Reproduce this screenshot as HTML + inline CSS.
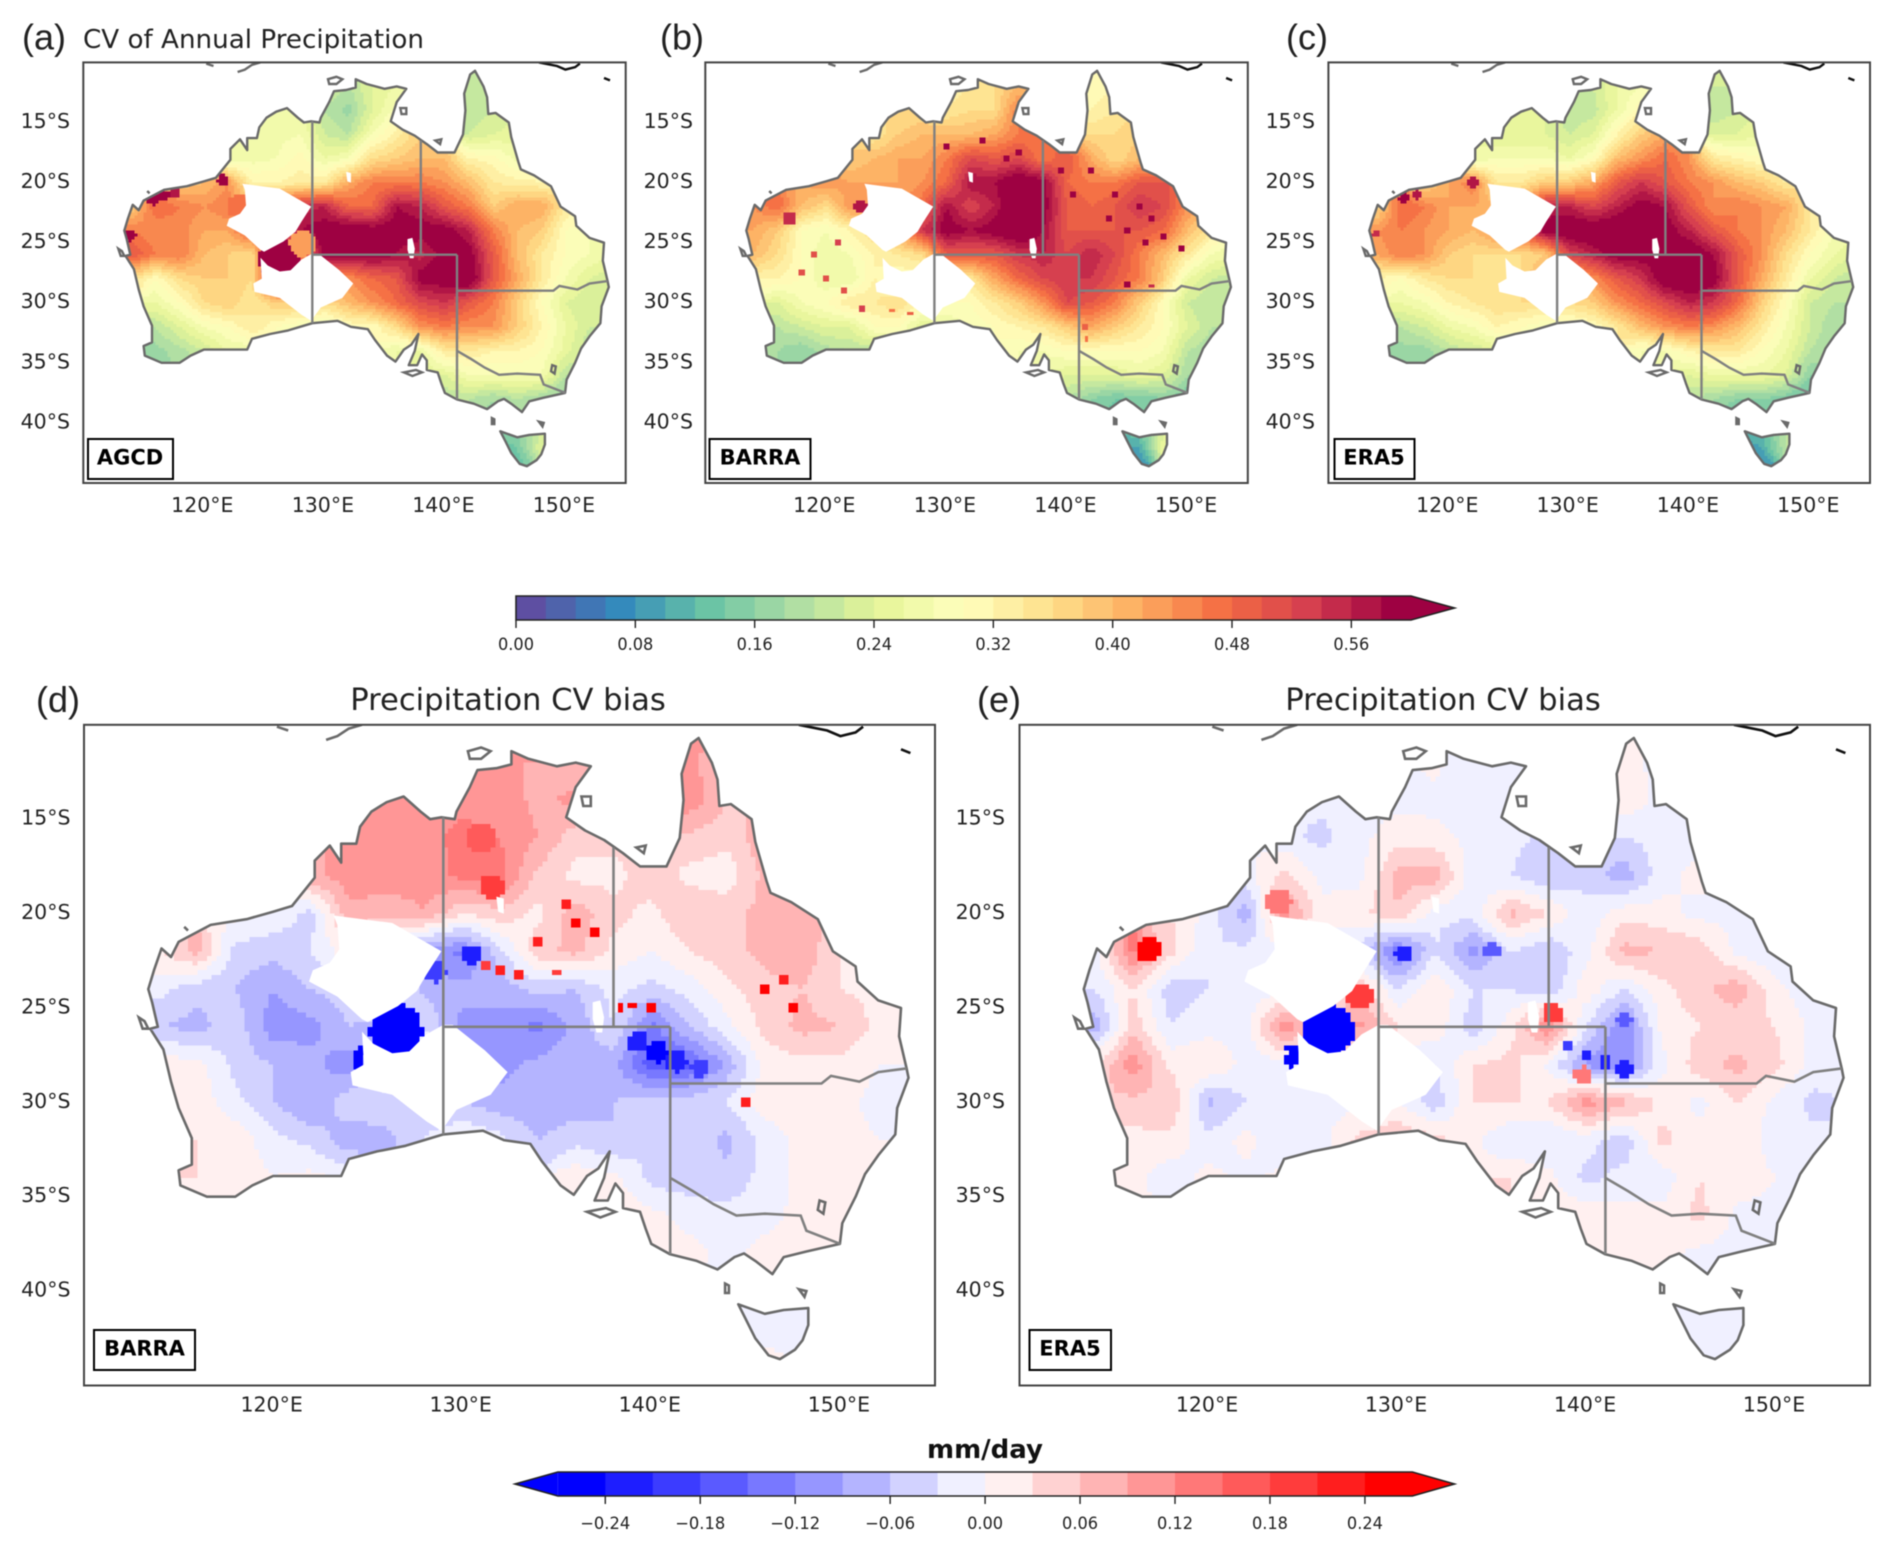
<!DOCTYPE html>
<html lang="en">
<head>
<meta charset="utf-8">
<title>Precipitation CV maps</title>
<style>
html,body{margin:0;padding:0;background:#fff;width:1892px;height:1552px;overflow:hidden}
#figure{display:block;filter:blur(.6px)}
.tick{font-family:"DejaVu Sans",sans-serif;font-size:20.5px;fill:#222}
.cbt{font-family:"DejaVu Sans",sans-serif;font-size:17px;fill:#222}
.ttl{font-family:"DejaVu Sans",sans-serif;fill:#222}
.let{font-family:"Liberation Sans",sans-serif;font-size:36px;fill:#222}
.ds{font-family:"DejaVu Sans",sans-serif;font-weight:bold;font-size:21px;fill:#000;text-anchor:middle}
.box{fill:#fff;stroke:#000;stroke-width:2}
.frame{fill:none;stroke:#444;stroke-width:2}
</style>
</head>
<body>
<svg id="figure" xmlns="http://www.w3.org/2000/svg" width="1892" height="1552" viewBox="0 0 1892 1552">
  <defs id="defs"></defs>
  <rect x="0" y="0" width="1892" height="1552" fill="#fff"/>

  <text class="let" x="22" y="49.5">(a)</text>
  <text class="ttl" x="83" y="48" font-size="26" textLength="341" lengthAdjust="spacingAndGlyphs">CV of Annual Precipitation</text>
  <text class="let" x="660" y="49.5">(b)</text>
  <text class="let" x="1286" y="49.5">(c)</text>
  <text class="let" x="36" y="712">(d)</text>
  <text class="ttl" x="508" y="710" font-size="30.6" text-anchor="middle">Precipitation CV bias</text>
  <text class="let" x="977" y="712">(e)</text>
  <text class="ttl" x="1443" y="710" font-size="30.6" text-anchor="middle">Precipitation CV bias</text>

  <g id="panel-a"></g>
  <g id="panel-b"></g>
  <g id="panel-c"></g>
  <g id="panel-d"></g>
  <g id="panel-e"></g>

  <rect class="box" x="88" y="439" width="85" height="40"/>
  <text class="ds" x="130" y="464.5">AGCD</text>
  <rect class="box" x="709.5" y="439" width="101" height="40"/>
  <text class="ds" x="760" y="464.5">BARRA</text>
  <rect class="box" x="1334.5" y="439" width="80" height="40"/>
  <text class="ds" x="1374" y="464.5">ERA5</text>
  <rect class="box" x="94" y="1330" width="101" height="40"/>
  <text class="ds" x="144.5" y="1355.5">BARRA</text>
  <rect class="box" x="1029.5" y="1330" width="81.5" height="40"/>
  <text class="ds" x="1070" y="1355.5">ERA5</text>

  <g id="colorbar-cv"></g>
  <g id="colorbar-bias"></g>
  <text x="985" y="1458" font-family="DejaVu Sans, sans-serif" font-weight="bold" font-size="26" fill="#111" text-anchor="middle">mm/day</text>
</svg>

<script>
const _ = null;
/* axis tick labels */
const lonTicks = [120, 130, 140, 150];
const latTicks = [15, 20, 25, 30, 35, 40];
const cvTicks = [0, 8, 16, 24, 32, 40, 48, 56];
const biasTicks = [-24, -18, -12, -6, 0, 6, 12, 18, 24];
/* contour levels (hundredths) */
const cvLevels = [0,2,4,6,8,10,12,14,16,18,20,22,24,26,28,30,32,34,36,38,40,42,44,46,48,50,52,54,56,58,60];
const biasLevels = [-27,-24,-21,-18,-15,-12,-9,-6,-3,0,3,6,9,12,15,18,21,24,27];
/* heatmap grid */
const gridLons = [112,114,116,118,120,122,124,126,128,130,132,134,136,138,140,142,144,146,148,150,152,154];
const gridLats = [-10,-12,-14,-16,-18,-20,-22,-24,-26,-28,-30,-32,-34,-36,-38,-40,-42,-44];

/* values in hundredths */
const cvAgcd = [
[_,_,_,_,_,_,_,_,_,_,_,_,_,_,_,20,_,_,_,_,_,_],
[_,_,_,_,_,_,_,_,_,22,20,24,26,_,_,20,22,_,_,_,_,_],
[_,_,_,_,_,_,_,27,27,20,17,24,29,_,_,20,22,_,_,_,_,_],
[_,_,_,_,_,_,26,27,28,22,20,28,33,38,_,22,24,25,_,_,_,_],
[_,_,_,_,_,26,27,28,31,26,28,36,38,40,40,32,31,27,28,_,_,_],
[_,_,_,38,40,44,32,32,33,34,42,46,46,46,44,40,34,33,32,_,_,_],
[_,38,48,46,44,46,40,50,55,56,48,48,58,56,50,46,38,42,42,34,_,_],
[_,46,44,45,42,42,50,50,58,60,62,60,60,60,60,56,46,40,38,30,28,_],
[_,50,46,46,40,38,36,60,44,60,60,60,58,55,60,60,50,40,34,30,28,26],
[_,36,30,36,38,38,36,60,60,44,44,48,50,60,60,62,50,42,34,28,24,22],
[_,_,26,30,36,38,34,38,38,36,40,44,48,52,54,50,46,38,30,24,22,_],
[_,_,20,24,28,30,34,30,28,26,30,30,36,44,46,44,44,38,32,26,22,_],
[_,18,17,19,22,26,26,_,_,_,_,_,26,26,34,34,32,32,30,25,20,_],
[_,_,17,_,_,_,_,_,_,_,_,_,_,24,24,28,28,28,28,20,_,_],
[_,_,_,_,_,_,_,_,_,_,_,_,_,_,20,20,18,20,18,16,_,_],
[_,_,_,_,_,_,_,_,_,_,_,_,_,_,_,_,16,18,22,_,_,_],
[_,_,_,_,_,_,_,_,_,_,_,_,_,_,_,_,12,14,24,_,_,_],
[_,_,_,_,_,_,_,_,_,_,_,_,_,_,_,_,_,12,_,_,_,_]];
const cvBarra = [
[_,_,_,_,_,_,_,_,_,_,_,_,_,_,_,30,_,_,_,_,_,_],
[_,_,_,_,_,_,_,_,_,32,34,36,40,_,_,30,32,_,_,_,_,_],
[_,_,_,_,_,_,_,36,36,34,36,36,46,_,_,32,34,_,_,_,_,_],
[_,_,_,_,_,_,34,38,40,40,40,42,46,46,_,36,36,38,_,_,_,_],
[_,_,_,_,_,38,40,42,42,46,52,50,52,46,50,42,36,40,42,_,_,_],
[_,_,_,42,44,42,42,42,44,48,58,58,62,60,48,46,46,50,50,_,_,_],
[_,44,48,40,36,44,42,42,48,58,52,56,64,60,50,48,50,54,52,44,_,_],
[_,42,38,30,28,32,36,42,54,60,58,60,62,58,50,50,50,50,48,40,34,_],
[_,40,36,30,26,28,32,34,36,50,50,50,54,56,52,56,52,46,40,34,28,26],
[_,32,32,30,26,26,32,30,30,34,34,42,48,52,54,54,50,46,38,26,22,20],
[_,_,24,28,30,34,34,36,32,30,30,34,38,44,52,50,46,38,30,22,20,_],
[_,_,20,22,24,24,30,30,24,26,28,30,32,34,38,42,38,34,30,24,20,_],
[_,18,18,16,19,20,20,_,_,_,_,_,28,28,30,30,30,30,28,20,18,_],
[_,_,18,_,_,_,_,_,_,_,_,_,_,26,24,24,24,26,24,18,_,_],
[_,_,_,_,_,_,_,_,_,_,_,_,_,_,20,16,14,14,16,14,_,_],
[_,_,_,_,_,_,_,_,_,_,_,_,_,_,_,_,12,16,22,_,_,_],
[_,_,_,_,_,_,_,_,_,_,_,_,_,_,_,_,10,10,26,_,_,_],
[_,_,_,_,_,_,_,_,_,_,_,_,_,_,_,_,_,6,_,_,_,_]];
const cvEra5 = [
[_,_,_,_,_,_,_,_,_,_,_,_,_,_,_,22,_,_,_,_,_,_],
[_,_,_,_,_,_,_,_,_,22,22,26,28,_,_,22,22,_,_,_,_,_],
[_,_,_,_,_,_,_,24,24,20,21,26,32,_,_,20,22,_,_,_,_,_],
[_,_,_,_,_,_,24,24,24,22,24,32,38,42,_,24,24,26,_,_,_,_],
[_,_,_,_,_,26,28,28,28,26,30,40,44,48,44,34,32,30,30,_,_,_],
[_,_,_,36,42,46,34,34,38,38,42,50,54,50,46,44,40,38,34,_,_,_],
[_,36,48,46,42,42,40,44,56,56,52,56,60,58,50,44,46,44,42,34,_,_],
[_,44,46,44,42,40,44,50,60,62,62,62,62,60,56,50,46,44,40,34,28,_],
[_,42,46,44,38,36,36,36,38,52,56,60,60,58,62,58,50,44,36,30,26,24],
[_,32,30,34,36,36,34,36,42,40,44,50,54,62,62,60,50,42,34,26,22,20],
[_,_,26,28,32,34,36,36,36,36,38,44,48,52,56,54,48,38,30,22,20,_],
[_,_,20,22,26,28,32,30,28,28,30,34,40,44,46,44,40,34,28,22,18,_],
[_,18,17,17,20,22,24,_,_,_,_,_,28,28,32,34,34,30,26,20,18,_],
[_,_,17,_,_,_,_,_,_,_,_,_,_,26,24,26,26,26,24,16,_,_],
[_,_,_,_,_,_,_,_,_,_,_,_,_,_,20,18,16,16,14,12,_,_],
[_,_,_,_,_,_,_,_,_,_,_,_,_,_,_,_,12,14,20,_,_,_],
[_,_,_,_,_,_,_,_,_,_,_,_,_,_,_,_,8,10,20,_,_,_],
[_,_,_,_,_,_,_,_,_,_,_,_,_,_,_,_,_,6,_,_,_,_]];
const biasBarra = [
[_,_,_,_,_,_,_,_,_,_,_,_,_,_,_,10,_,_,_,_,_,_],
[_,_,_,_,_,_,_,_,_,11,9,9,6,_,_,10,6,_,_,_,_,_],
[_,_,_,_,_,_,_,9,9,11,11,8,10,_,_,11,6,_,_,_,_,_],
[_,_,_,_,_,_,9,11,11,13,12,9,4,4,_,5,4,8,_,_,_,_],
[_,_,_,_,_,8,11,11,10,13,13,5,2,2,5,2,1,7,7,_,_,_],
[_,_,_,1,-1,-4,8,7,9,3,5,2,8,4,2,6,5,7,7,_,_,_],
[_,3,7,-4,-5,-3,2,-2,-10,-13,-4,5,7,2,0,3,5,7,8,3,_,_],
[_,-2,-5,-6,-9,-6,-4,2,-7,-8,-8,-5,-6,-2,-4,-2,2,5,6,3,2,_],
[_,-6,-7,-4,-11,-10,-6,-8,-3,-10,-10,-13,-8,-3,-13,-6,-1,4,7,6,2,1],
[_,2,1,-4,-6,-8,-11,0,0,-10,-10,-8,-6,-8,-17,-16,-8,1,2,2,0,0],
[_,_,2,-2,-6,-9,-4,-4,-5,-6,-8,-8,-8,-6,-4,-4,-3,2,1,1,-1,_],
[_,_,3,2,-2,-4,-8,-7,-3,0,-2,-6,-4,-6,-3,-4,-7,-2,1,1,0,_],
[_,3,3,2,0,1,-1,_,_,_,_,_,2,1,-4,-5,-5,-2,1,0,0,_],
[_,_,2,_,_,_,_,_,_,_,_,_,_,2,1,-1,-2,-1,1,0,_,_],
[_,_,_,_,_,_,_,_,_,_,_,_,_,_,2,1,-1,1,1,0,_,_],
[_,_,_,_,_,_,_,_,_,_,_,_,_,_,_,_,-1,-1,-1,_,_,_],
[_,_,_,_,_,_,_,_,_,_,_,_,_,_,_,_,-1,-1,-1,_,_,_],
[_,_,_,_,_,_,_,_,_,_,_,_,_,_,_,_,_,1,_,_,_,_]];
const biasEra5 = [
[_,_,_,_,_,_,_,_,_,_,_,_,_,_,_,1,_,_,_,_,_,_],
[_,_,_,_,_,_,_,_,_,-1,1,-3,-3,_,_,1,-1,_,_,_,_,_],
[_,_,_,_,_,_,_,-2,-2,-1,-1,-3,-3,_,_,2,-1,_,_,_,_,_],
[_,_,_,_,_,_,-2,-4,-1,2,1,-1,-2,-4,_,-3,-2,-1,_,_,_,_],
[_,_,_,_,_,-1,4,-1,-1,7,8,-2,-3,-6,-4,-8,-1,1,1,_,_,_],
[_,_,_,3,-1,-8,11,1,2,6,-2,-2,7,3,-2,2,1,-1,-1,_,_,_],
[_,-1,13,4,-3,-2,-2,-2,-4,-14,-3,-10,-3,-6,-1,7,6,5,-1,-3,_,_],
[_,-3,3,-5,-3,-1,-2,3,6,-3,3,-3,-3,-6,2,-3,2,5,8,1,-2,_],
[_,-8,5,-3,-1,-2,12,3,10,3,2,-5,2,12,-3,-12,1,3,4,3,-1,-1],
[_,3,11,2,3,-1,-2,0,0,-3,-3,3,4,-1,-10,-12,-1,5,7,4,-1,-1],
[_,_,5,6,-7,-3,-2,-1,-1,0,-5,3,3,3,11,7,2,-1,3,-1,-4,_],
[_,_,2,2,-2,1,-3,-1,4,6,4,1,-3,-3,-2,-5,4,1,3,-2,-2,_],
[_,1,1,-2,1,-1,1,_,_,_,_,_,3,1,-4,-2,-2,3,2,0,0,_],
[_,_,1,_,_,_,_,_,_,_,_,_,_,2,2,1,1,4,-1,-1,_,_],
[_,_,_,_,_,_,_,_,_,_,_,_,_,_,1,1,1,-1,-1,-1,_,_],
[_,_,_,_,_,_,_,_,_,_,_,_,_,_,_,_,-1,-1,-1,_,_,_],
[_,_,_,_,_,_,_,_,_,_,_,_,_,_,_,_,-1,-3,-1,_,_,_],
[_,_,_,_,_,_,_,_,_,_,_,_,_,_,_,_,_,-1,_,_,_,_]];

/* small local features: lon, lat, radius (deg), value */
const spotsAgcd = [[126.2,-26.4,1.7,62],[128.2,-25.1,1.1,43],[122.9,-22,1,47],[121.6,-19.8,.5,60],[115.8,-21.4,.5,60],[116.7,-21.1,.5,60],[117.6,-20.9,.45,56],[113.9,-24.4,.5,60]];
const spotsBarra = [[136.5,-13.6,.5,60],[146,-22,.3,60],[147,-23,.3,60],[144,-21,.25,60],[148,-24.5,.3,60],[146.5,-25,.3,60],[143.5,-23,.25,60],[149.5,-25.5,.25,60],[145,-24,.3,60],[142,-19,.3,60],[139.5,-19,.3,60],[140.5,-21,.3,60],[136,-17.5,.25,60],[135,-18,.25,60],[133,-16.5,.25,58],[130,-17,.25,58],[121,-25,.2,52],[119,-26,.2,50],[118,-27.5,.2,50],[120,-28,.2,50],[121.5,-29,.2,50],[123,-30.5,.2,52],[127,-30.8,.2,48],[125.5,-30.6,.25,46],[122.9,-22,.6,56],[117,-23,.6,54],[141.6,-32,.3,48],[141.6,-33,.25,46],[145,-28.4,.3,58],[147,-28.6,.25,54]];
const spotsEra5 = [[116.3,-21.3,.45,60],[117.3,-21,.4,56],[113.9,-24.3,.3,54],[122,-20,.45,56]];
const spotsBiasBarra = [[126.5,-26.2,1.4,-30],[124.6,-27.4,.35,-30],[124.5,-28,.3,-30],[136.5,-13.6,.55,26],[131.6,-18.6,.7,20],[131,-16,.8,15],[146,-24,.25,24],[147.5,-25,.25,24],[147,-23.5,.3,22],[140,-25,.2,26],[139,-24.8,.2,26],[138.3,-25,.2,26],[145,-30,.3,22],[136,-20.5,.35,24],[137,-21,.35,24],[135.5,-19.5,.35,22],[134,-21.5,.25,22],[132,-23,.25,22],[133,-23.2,.25,22],[131.2,-22.8,.25,20],[135,-23.2,.2,20],[130.5,-22.2,.5,-22],[128.6,-23.1,.55,-20],[139.3,-26.8,.55,-22],[140.3,-27.3,.6,-25],[141.3,-27.8,.6,-24],[142.6,-28.2,.5,-20]];
const spotsBiasEra5 = [[126.3,-26.2,1.4,-30],[124.4,-27.8,.35,-30],[124.4,-27.2,.3,-30],[116.8,-21.9,.65,24],[123.7,-19.4,.7,14],[128,-24.4,.7,18],[138.2,-25.3,.55,18],[130.3,-22.1,.45,-22],[135,-21.9,.45,-18],[139.8,-28.6,.5,13],[139,-27,.35,-20],[140,-27.5,.35,-22],[141,-27.9,.35,-22],[142,-28.3,.45,-22],[142,-25.6,.4,-16]];

/* geography in lon/lat */
const mainland = [[142.5,-10.7],[143.2,-12],[143.5,-12.9],[143.6,-14.3],[144.2,-14.2],[145.3,-15],[145.5,-16.2],[146.1,-18.3],[146.3,-18.9],[147.4,-19.4],[148.8,-20.3],[149.6,-22],[150.8,-22.8],[150.9,-23.6],[152,-24.6],[153.2,-25],[153.1,-26.5],[153.5,-28.2],[153.6,-28.7],[153,-30.3],[152.9,-31.7],[152,-32.8],[151.3,-33.8],[150.8,-35],[150.1,-36.4],[149.97,-37.5],[148.2,-37.9],[147,-38.2],[146.4,-39.1],[145.5,-38.4],[144.9,-38],[144.4,-38.2],[143.5,-38.85],[142.4,-38.4],[141,-38.05],[140,-37.5],[139.7,-36.7],[139.4,-35.8],[138.5,-35.6],[138.5,-34.8],[138.1,-34.3],[137.7,-35.2],[137,-35.2],[137.5,-34],[137.8,-32.6],[137.2,-33.5],[136.6,-33.9],[135.9,-34.9],[135.2,-34.4],[134.2,-33.1],[133.6,-32.2],[132.2,-32],[131.1,-31.5],[129,-31.7],[127,-32.3],[125.5,-32.6],[124,-33],[123.6,-33.9],[122,-33.9],[120,-33.9],[118.9,-34.4],[118,-35],[116.5,-35],[115.1,-34.4],[115,-33.6],[115.7,-33.3],[115.7,-31.9],[115,-30.3],[114.6,-28.9],[114.2,-27.2],[113.5,-26.1],[113.9,-26],[113.6,-24.7],[113.4,-24],[113.7,-23],[114.1,-21.85],[114.6,-22.3],[115,-21.5],[116.7,-20.6],[118.6,-20.3],[120,-19.9],[121,-19.6],[122.2,-18.1],[122.2,-17.2],[123,-16.4],[123.6,-17.3],[123.6,-16.3],[124.4,-16.3],[124.6,-15.4],[125.2,-14.6],[126,-14.1],[126.9,-13.8],[127.8,-14.6],[128.3,-15],[128.9,-14.9],[129.6,-15],[129.7,-14.6],[130.4,-13.3],[130.8,-12.4],[131.8,-12.3],[132.6,-12.1],[132.6,-11.4],[133.5,-11.8],[135,-12.2],[136,-12],[136.8,-12.2],[136,-13.3],[135.5,-14.9],[136.5,-15.6],[137.5,-16.1],[138.5,-16.8],[139.4,-17.5],[140.8,-17.5],[141.5,-16],[141.7,-14],[141.6,-12.6],[142.1,-11]];
const tasmania = [[144.6,-40.7],[146,-41.2],[147,-41],[148.3,-40.9],[148.3,-41.8],[148,-42.6],[147.6,-43.1],[146.8,-43.6],[146.2,-43.4],[145.5,-42.5],[145,-41.5]];
const grayIslands = [
[[130.3,-11.4],[131,-11.2],[131.5,-11.4],[131,-11.8],[130.4,-11.8]],
[[136.3,-13.8],[136.8,-13.8],[136.8,-14.3],[136.4,-14.3]],
[[139.2,-16.5],[139.7,-16.4],[139.6,-16.8]],
[[136.6,-35.8],[137.6,-35.6],[138.1,-35.8],[137.3,-36.1]],
[[143.9,-39.6],[144.1,-39.7],[144.1,-40.1],[143.9,-40.1]],
[[147.8,-39.9],[148.2,-40],[148.1,-40.3]],
[[112.9,-25.5],[113.2,-25.7],[113.4,-26.1],[113.1,-26.1]],
[[148.9,-35.2],[149.2,-35.3],[149.1,-35.9],[148.8,-35.7]]];
const grayCoastBits = [
[[115.3,-20.7],[115.5,-20.9]],
[[120.2,-10.1],[120.8,-10.3]],
[[122.8,-10.8],[123.4,-10.6],[124,-10.2],[124.7,-10]]];
const blackIslands = [
[[147.8,-10],[149.3,-10.3],[150,-10.6],[150.8,-10.4],[151.2,-10.1]],
[[153.2,-11.3],[153.7,-11.5]]];
const stateBorders = [
[[129,-14.9],[129,-31.7]],
[[129,-26],[141,-26]],
[[138,-16.5],[138,-26]],
[[141,-26],[141,-38.05]],
[[141,-29],[149,-29],[149.5,-28.6],[151,-28.9],[152,-28.4],[153.5,-28.2]],
[[141,-34],[142.2,-34.7],[143.3,-35.4],[144.5,-36],[146,-35.9],[147.9,-36],[148.2,-36.8],[150,-37.5]]];
const missingUpper = [[123.2,-20.1],[126.3,-20.5],[128.9,-22],[128.1,-23.25],[127.6,-24.1],[126.6,-24.9],[125,-25.75],[124.7,-25.6],[123.4,-24.4],[121.9,-23.6],[122.1,-23],[123,-22.6],[123.5,-21.9],[123.4,-20.6]];
const missingLower = [[124.7,-26.25],[125.3,-26.9],[126.3,-27.4],[127.2,-27.3],[128.1,-26.4],[129,-25.9],[129.5,-25.9],[131.2,-27.25],[132.4,-28.4],[131.5,-29.6],[129.7,-30.4],[128.9,-31.5],[128.1,-31],[126.3,-29.6],[124.2,-29.1],[124.1,-28.4],[124.8,-28]];
const missingEyre = [[136.9,-24.7],[137.3,-24.6],[137.5,-25.5],[137.4,-26.3],[137.1,-26.3],[136.9,-25.6]];
const missingSmall = [[131.8,-19.1],[132.2,-19.2],[132.2,-20],[131.9,-19.9]];

const NS = 'http://www.w3.org/2000/svg';
const spectralStops = ['#5e4fa2','#3288bd','#66c2a5','#abdda4','#e6f598','#ffffbf','#fee08b','#fdae61','#f46d43','#d53e4f','#9e0142'];
function hex(c){return [1,3,5].map(function(i){return parseInt(c.substr(i,2),16);});}
function spectral(t){
  const p=Math.min(.9999,Math.max(0,t))*10,i=Math.floor(p),f=p-i,a=hex(spectralStops[i]),b=hex(spectralStops[i+1]);
  return 'rgb('+a.map(function(v,k){return Math.round(v+(b[k]-v)*f);}).join(',')+')';
}
function bwr(t){
  const v=Math.round(t<.5?t*2*255:(1-t)*2*255);
  return t<.5?'rgb('+v+','+v+',255)':'rgb(255,'+v+','+v+')';
}
function levelIndex(levels,v){
  if(v<levels[0])return -1;
  for(let i=1;i<levels.length;i++){if(v<levels[i])return i-1;}
  return levels.length-1;
}
function cvColor(i){
  const n=cvLevels.length-1;
  return spectral(Math.min(i,n-1)/(n-1));
}
function biasColor(i){
  const n=biasLevels.length-1;
  return bwr(Math.max(0,Math.min(i,n-1))/(n-1));
}
function sample(grid,spots,lon,lat){
  for(let s=spots.length-1;s>=0;s--){
    const d=spots[s];
    if(Math.hypot(lon-d[0],lat-d[1])<=d[2])return d[3];
  }
  const fx=(lon-gridLons[0])/(gridLons[1]-gridLons[0]);
  const fy=(lat-gridLats[0])/(gridLats[1]-gridLats[0]);
  const ix=Math.max(0,Math.min(gridLons.length-2,Math.floor(fx)));
  const iy=Math.max(0,Math.min(gridLats.length-2,Math.floor(fy)));
  const tx=fx-ix,ty=fy-iy;
  const corners=[[iy,ix,(1-tx)*(1-ty)],[iy,ix+1,tx*(1-ty)],[iy+1,ix,(1-tx)*ty],[iy+1,ix+1,tx*ty]];
  let sum=0,w=0;
  corners.forEach(function(c){
    const val=grid[c[0]][c[1]];
    if(val!==null&&c[2]>0){sum+=val*c[2];w+=c[2];}
  });
  return w>0?sum/w:null;
}

const panels = [
 {id:'a',x0:83.3,x1:625.7,y0:62.4,y1:483,grid:cvAgcd,spots:spotsAgcd,levels:cvLevels,color:cvColor,sw:2.4,labelX:70,labelY:504.5},
 {id:'b',x0:705.3,x1:1247.8,y0:62.4,y1:483,grid:cvBarra,spots:spotsBarra,levels:cvLevels,color:cvColor,sw:2.4,labelX:693,labelY:504.5},
 {id:'c',x0:1328.4,x1:1870,y0:62.4,y1:483,grid:cvEra5,spots:spotsEra5,levels:cvLevels,color:cvColor,sw:2.4,labelX:1315,labelY:504.5},
 {id:'d',x0:84,x1:935,y0:724.8,y1:1385.5,grid:biasBarra,spots:spotsBiasBarra,levels:biasLevels,color:biasColor,sw:2.6,labelX:70.5,labelY:1404},
 {id:'e',x0:1019.5,x1:1870,y0:724.8,y1:1385.5,grid:biasEra5,spots:spotsBiasEra5,levels:biasLevels,color:biasColor,sw:2.6,labelX:1005,labelY:1404}
];
const defs=document.getElementById('defs');

panels.forEach(function(p){
  const host=document.getElementById('panel-'+p.id);
  const xOf=function(lon){return p.x0+(lon-110)/45*(p.x1-p.x0);};
  const yOf=function(lat){return p.y0+(-10-lat)/35*(p.y1-p.y0);};
  const toPath=function(pts,closed){
    return pts.map(function(q,i){return (i?'L':'M')+xOf(q[0]).toFixed(1)+' '+yOf(q[1]).toFixed(1);}).join('')+(closed?'Z':'');
  };
  const landD=toPath(mainland,true)+toPath(tasmania,true);

  const landClip=document.createElementNS(NS,'clipPath');
  landClip.setAttribute('id','land-'+p.id);
  
  
  const landShape=document.createElementNS(NS,'path');
  landShape.setAttribute('d',landD);
  landClip.appendChild(landShape);
  defs.appendChild(landClip);

  const axesClip=document.createElementNS(NS,'clipPath');
  axesClip.setAttribute('id','axes-'+p.id);
  
  
  const axesShape=document.createElementNS(NS,'rect');
  axesShape.setAttribute('x',p.x0);
  axesShape.setAttribute('y',p.y0);
  axesShape.setAttribute('width',p.x1-p.x0);
  axesShape.setAttribute('height',p.y1-p.y0);
  axesClip.appendChild(axesShape);
  defs.appendChild(axesClip);

  const cells=document.createElementNS(NS,'g');
  cells.setAttribute('clip-path','url(#land-'+p.id+')');
  cells.setAttribute('shape-rendering','crispEdges');
  
  
  host.appendChild(cells);

  const step=.25;
  for(let lat=-10;lat>-44.5;lat-=step){
    let runStart=null,runLevel=null;
    const flush=function(endLon){
      if(runLevel===null)return;
      const r=document.createElementNS(NS,'rect');
      r.setAttribute('x',xOf(runStart).toFixed(1));
      r.setAttribute('y',yOf(lat).toFixed(1));
      r.setAttribute('width',(xOf(endLon)-xOf(runStart)+.4).toFixed(1));
      r.setAttribute('height',(yOf(lat-step)-yOf(lat)+.4).toFixed(1));
      r.setAttribute('fill',p.color(runLevel));
      
      
      cells.appendChild(r);
    };
    for(let lon=112;lon<154;lon+=step){
      const v=sample(p.grid,p.spots,lon+step/2,lat-step/2);
      const lv=v===null?null:levelIndex(p.levels,v);
      if(lv!==runLevel){
        flush(lon);
        runStart=lon;
        runLevel=lv;
      }
    }
    flush(154);
  }

  const overlay=document.createElementNS(NS,'g');
  overlay.setAttribute('clip-path','url(#axes-'+p.id+')');
  
  
  host.appendChild(overlay);

  [missingUpper,missingLower,missingEyre,missingSmall].forEach(function(poly){
    const m=document.createElementNS(NS,'path');
    m.setAttribute('d',toPath(poly,true));
    m.setAttribute('fill','#fff');
    
    
    overlay.appendChild(m);
  });

  const coast=document.createElementNS(NS,'path');
  coast.setAttribute('d',landD);
  coast.setAttribute('fill','none');
  coast.setAttribute('stroke','#6a6a6a');
  coast.setAttribute('stroke-width',p.sw);
  coast.setAttribute('stroke-linejoin','round');
  
  
  overlay.appendChild(coast);

  grayIslands.forEach(function(poly){
    const g=document.createElementNS(NS,'path');
    g.setAttribute('d',toPath(poly,true));
    g.setAttribute('fill','none');
    g.setAttribute('stroke','#6a6a6a');
    g.setAttribute('stroke-width',p.sw);
    
    
    overlay.appendChild(g);
  });
  grayCoastBits.forEach(function(poly){
    const g=document.createElementNS(NS,'path');
    g.setAttribute('d',toPath(poly,false));
    g.setAttribute('fill','none');
    g.setAttribute('stroke','#6a6a6a');
    g.setAttribute('stroke-width',p.sw);
    
    
    overlay.appendChild(g);
  });
  blackIslands.forEach(function(poly){
    const g=document.createElementNS(NS,'path');
    g.setAttribute('d',toPath(poly,false));
    g.setAttribute('fill','none');
    g.setAttribute('stroke','#111');
    g.setAttribute('stroke-width',p.sw);
    
    
    overlay.appendChild(g);
  });
  stateBorders.forEach(function(line){
    const b=document.createElementNS(NS,'path');
    b.setAttribute('d',toPath(line,false));
    b.setAttribute('fill','none');
    b.setAttribute('stroke','#808080');
    b.setAttribute('stroke-width',p.sw);
    
    
    overlay.appendChild(b);
  });

  const frame=document.createElementNS(NS,'rect');
  frame.setAttribute('class','frame');
  frame.setAttribute('x',p.x0);
  frame.setAttribute('y',p.y0);
  frame.setAttribute('width',p.x1-p.x0);
  frame.setAttribute('height',p.y1-p.y0);
  
  
  host.appendChild(frame);

  lonTicks.forEach(function(t){
    const e=document.createElementNS(NS,'text');
    e.setAttribute('class','tick');
    e.setAttribute('x',xOf(t)-1.5);
    e.setAttribute('y',p.labelY+7.5);
    e.setAttribute('text-anchor','middle');
    
    
    e.textContent=t+'°E';
    host.appendChild(e);
  });
  latTicks.forEach(function(t){
    const e=document.createElementNS(NS,'text');
    e.setAttribute('class','tick');
    e.setAttribute('x',p.labelX);
    e.setAttribute('y',yOf(-t)+5.5);
    e.setAttribute('text-anchor','end');
    
    
    e.textContent=t+'°S';
    host.appendChild(e);
  });
});

/* colorbars */
function drawColorbar(hostId,levels,color,ticks,fmt,scale,top,bottom,tipL,tipR,labelY){
  const host=document.getElementById(hostId);
  const n=levels.length-1;
  const L=scale(levels[0]),R=scale(levels[n]),mid=(top+bottom)/2;
  for(let i=0;i<n;i++){
    const s=document.createElementNS(NS,'rect');
    s.setAttribute('x',scale(levels[i]).toFixed(1));
    s.setAttribute('y',top);
    s.setAttribute('width',(scale(levels[i+1])-scale(levels[i])+.5).toFixed(1));
    s.setAttribute('height',bottom-top);
    s.setAttribute('fill',color(i));
    
    
    host.appendChild(s);
  }
  let d='M'+L+' '+top+'L'+R+' '+top+'L'+tipR+' '+mid+'L'+R+' '+bottom+'L'+L+' '+bottom;
  const end=document.createElementNS(NS,'path');
  end.setAttribute('d','M'+R+' '+top+'L'+tipR+' '+mid+'L'+R+' '+bottom+'Z');
  end.setAttribute('fill',color(n));
  
  
  host.appendChild(end);
  if(tipL<L){
    const start=document.createElementNS(NS,'path');
    start.setAttribute('d','M'+L+' '+top+'L'+tipL+' '+mid+'L'+L+' '+bottom+'Z');
    start.setAttribute('fill',color(-1));
    
    
    host.appendChild(start);
    d+='L'+tipL+' '+mid+'Z';
  } else { d+='Z'; }
  const outline=document.createElementNS(NS,'path');
  outline.setAttribute('d',d);
  outline.setAttribute('fill','none');
  outline.setAttribute('stroke','#222');
  outline.setAttribute('stroke-width','1.6');
  
  
  host.appendChild(outline);
  ticks.forEach(function(t){
    const m=document.createElementNS(NS,'line');
    m.setAttribute('x1',scale(t));
    m.setAttribute('x2',scale(t));
    m.setAttribute('y1',bottom);
    m.setAttribute('y2',bottom+8);
    m.setAttribute('stroke','#222');
    m.setAttribute('stroke-width','1.4');
    
    
    host.appendChild(m);
    const e=document.createElementNS(NS,'text');
    e.setAttribute('class','cbt');
    e.setAttribute('x',scale(t));
    e.setAttribute('y',labelY);
    e.setAttribute('text-anchor','middle');
    e.setAttribute('textLength',t<0?50:36);
    e.setAttribute('lengthAdjust','spacingAndGlyphs');
    
    
    e.textContent=fmt(t);
    host.appendChild(e);
  });
}
function fmtLevel(t){
  const s=(Math.abs(t)/100).toFixed(2);
  return t<0?'\u2212'+s:s;
}
function xCv(v){return 516+v/60*895;}
function xBias(v){return 557.8+(v+27)/54*854.6;}
drawColorbar('colorbar-cv',cvLevels,cvColor,cvTicks,fmtLevel,xCv,596,620,516,1454.5,650);
drawColorbar('colorbar-bias',biasLevels,biasColor,biasTicks,fmtLevel,xBias,1472,1496,515,1454.5,1529);
</script>
</body>
</html>
